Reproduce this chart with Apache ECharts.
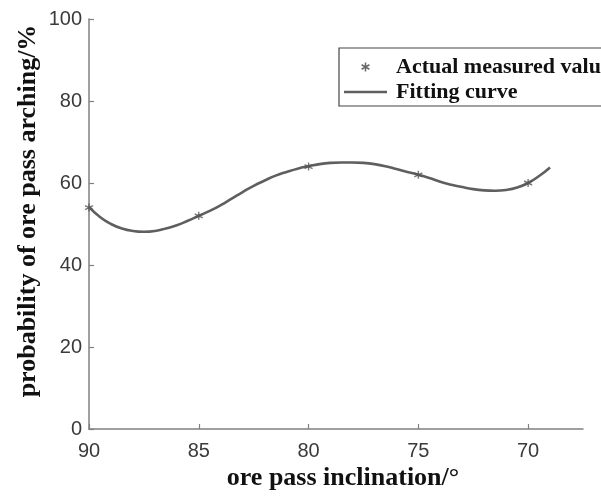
<!DOCTYPE html>
<html>
<head>
<meta charset="utf-8">
<script src="https://cdn.jsdelivr.net/npm/echarts@6/dist/echarts.min.js"></script>
<style>html,body{margin:0;padding:0;background:#fff}#c{width:601px;height:496px}</style>
</head>
<body>
<div id="c"></div>
<script>
// Measured points
var measuredX = [90, 85, 80, 75, 70];
var measuredY = [54, 52, 64, 62, 60];
// Fitting curve samples (every 0.5 degree)
var fitX = [90, 89.5, 89, 88.5, 88, 87.5, 87, 86.5, 86, 85.5, 85, 84.5, 84, 83.5, 83, 82.5, 82, 81.5, 81, 80.5, 80, 79.5, 79, 78.5, 78, 77.5, 77, 76.5, 76, 75.5, 75, 74.5, 74, 73.5, 73, 72.5, 72, 71.5, 71, 70.5, 70, 69.5, 69];
var fitY = [54.2, 51.7, 50.0, 48.9, 48.3, 48.1, 48.3, 48.9, 49.7, 50.8, 52.0, 53.2, 54.6, 56.2, 57.8, 59.3, 60.6, 61.8, 62.7, 63.5, 64.1, 64.6, 64.9, 65.0, 65.0, 64.9, 64.6, 64.1, 63.4, 62.7, 62.0, 61.2, 60.3, 59.6, 59.0, 58.5, 58.2, 58.1, 58.3, 58.9, 60.0, 61.7, 63.8];
var xTicks = [90, 85, 80, 75, 70];
var yTicks = [0, 20, 40, 60, 80, 100];
var seriesNames = ['Actual measured value', 'Fitting curve'];
var xTitle = 'ore pass inclination/\u00B0';
var yTitle = 'probability of ore pass arching/%';

var star = 'path://M0,-5L0,5M-4.33,-2.5L4.33,2.5M-4.33,2.5L4.33,-2.5';
var lineIcon = 'path://M0,0L43,0L43,2.6L0,2.6Z';

var chart = echarts.init(document.getElementById('c'), null, {renderer: 'canvas'});
var axisColor = '#808080';
var curveColor = '#5f5f5f';
var labelFont = {fontFamily: 'Liberation Sans, Arial, sans-serif', fontSize: 20, color: '#3a3a3a'};
chart.setOption({
  animation: false,
  backgroundColor: '#ffffff',
  grid: {left: 89, right: 18, top: 19, bottom: 64, containLabel: false},
  legend: {
    orient: 'vertical',
    left: 339, top: 48,
    padding: [8, 6, 3, 5],
    itemGap: 3,
    itemWidth: 43, itemHeight: 9,
    backgroundColor: '#ffffff',
    borderColor: '#444444', borderWidth: 1.2,
    textStyle: {fontFamily: 'Liberation Serif, Times New Roman, serif', fontWeight: 'bold', fontSize: 22, color: '#111111', padding: [0, 0, 0, 4]},
    data: [
      {name: seriesNames[0], icon: star, itemStyle: {color: 'none', borderColor: '#444444', borderWidth: 1.5}},
      {name: seriesNames[1], icon: lineIcon, itemStyle: {color: curveColor, borderWidth: 0}}
    ]
  },
  xAxis: {
    type: 'value', inverse: true, min: 67.5, max: 90,
    name: xTitle, nameLocation: 'middle', nameGap: 36, nameMoveOverlap: false,
    nameTextStyle: {fontFamily: 'Liberation Serif, Times New Roman, serif', fontWeight: 'bold', fontSize: 26, color: '#111111', padding: [0, 0, 0, 14]},
    axisLine: {show: true, lineStyle: {color: axisColor, width: 1.5}},
    axisTick: {show: true, inside: true, length: 5, lineStyle: {color: axisColor, width: 1.2}, customValues: xTicks},
    axisLabel: Object.assign({margin: 12, customValues: xTicks}, labelFont),
    splitLine: {show: false}
  },
  yAxis: {
    type: 'value', min: 0, max: 100, interval: 20,
    name: yTitle, nameLocation: 'middle', nameGap: 48, nameMoveOverlap: false,
    nameTextStyle: {fontFamily: 'Liberation Serif, Times New Roman, serif', fontWeight: 'bold', fontSize: 26, color: '#111111', padding: [0, 0, 0, 26]},
    axisLine: {show: true, lineStyle: {color: axisColor, width: 1.5}},
    axisTick: {show: true, inside: true, length: 5, lineStyle: {color: axisColor, width: 1.2}},
    axisLabel: Object.assign({margin: 7}, labelFont),
    splitLine: {show: false}
  },
  series: [
    {
      name: seriesNames[0], type: 'scatter', z: 3,
      symbol: star, symbolSize: 8,
      itemStyle: {color: 'none', borderColor: '#555555', borderWidth: 1.4},
      data: measuredX.map(function (x, i) { return [x, measuredY[i]]; })
    },
    {
      name: seriesNames[1], type: 'line', smooth: true, symbol: 'none', z: 2,
      lineStyle: {color: curveColor, width: 2.6},
      itemStyle: {color: curveColor},
      data: fitX.map(function (x, i) { return [x, fitY[i]]; })
    }
  ]
});
</script>
</body>
</html>
